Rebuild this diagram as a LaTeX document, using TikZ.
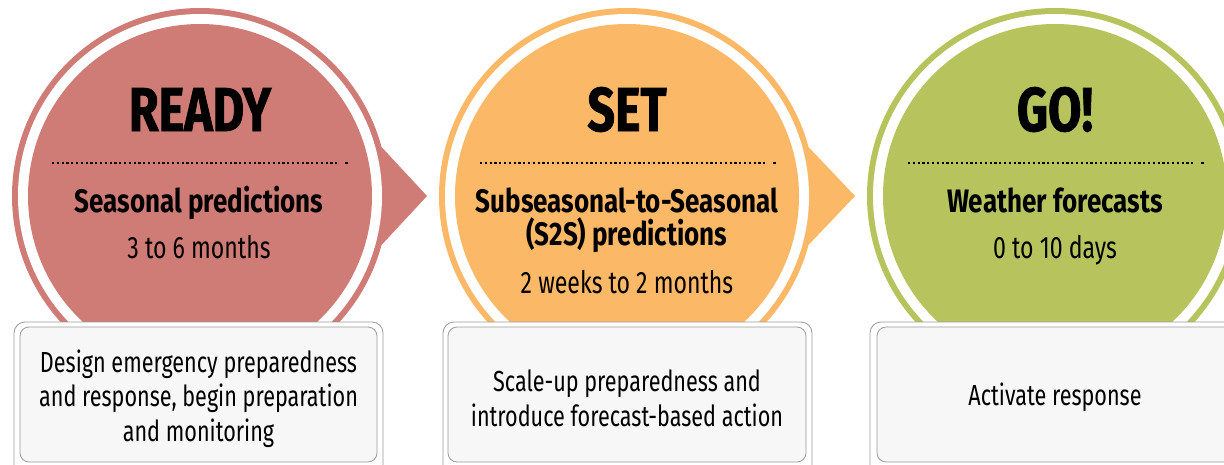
\documentclass[tikz,border=0pt]{standalone}
\usepackage{fontspec}
\setmainfont{Fira Sans}[FakeStretch=0.745]
\newfontfamily\headfont{Fira Sans}[FakeStretch=0.80]
\newfontfamily\titlefont{Fira Sans}[FakeStretch=0.78, FakeBold=1.2]
\definecolor{cred}{RGB}{207,123,118}
\definecolor{corange}{RGB}{251,184,103}
\definecolor{cgreen}{RGB}{183,196,94}
\definecolor{boxline}{RGB}{155,155,155}
\definecolor{boxfill}{RGB}{247,247,247}
\tikzset{
  outerdisc/.style={circle, inner sep=0pt, minimum size=376pt},
  gapdisc/.style={circle, fill=white, inner sep=0pt, minimum size=364pt},
  innerdisc/.style={circle, inner sep=0pt, minimum size=344pt},
  titletext/.style={anchor=base, font=\titlefont\bfseries\fontsize{62}{62}\selectfont},
  headtext/.style={anchor=base, font=\headfont\bfseries\fontsize{32.5}{35}\selectfont, align=center},
  spantext/.style={anchor=base, font=\fontsize{31}{34}\selectfont},
  dotline/.style={line width=2.2pt, dash pattern=on 2.2pt off 2.6pt},
  boxout/.style={draw=boxline, fill=white, line width=0.8pt, rounded corners=11pt, inner sep=0pt},
  boxin/.style={draw=boxline, fill=boxfill, line width=0.8pt, rounded corners=9pt, inner sep=0pt},
  boxtext/.style={font=\fontsize{29}{34.5}\selectfont, align=center}
}
\begin{document}
\begin{tikzpicture}[x=1pt,y=-1pt]
\useasboundingbox (0,0) rectangle (1224,464);
\clip (0,0) rectangle (1224,464);
% ---------- READY ----------
\coordinate (t1) at (427,196);
\node[outerdisc, fill=cred] (c1o) at (200,196) {};
\fill[cred] (c1o.15) -- (t1) -- (c1o.-15) -- cycle;
\node[gapdisc] (c1g) at (c1o.center) {};
\node[innerdisc, fill=cred] (c1) at (c1o.center) {};
% ---------- SET ----------
\coordinate (t2) at (855,196);
\node[outerdisc, fill=corange] (c2o) at (627,196) {};
\fill[corange] (c2o.15) -- (t2) -- (c2o.-15) -- cycle;
\node[gapdisc] (c2g) at (c2o.center) {};
\node[innerdisc, fill=corange] (c2) at (c2o.center) {};
% ---------- GO ----------
\node[outerdisc, fill=cgreen] (c3o) at (1055,196) {};
\node[gapdisc] (c3g) at (c3o.center) {};
\node[innerdisc, fill=cgreen] (c3) at (c3o.center) {};
% titles
\node[titletext] (h1) at (200,131) {READY};
\node[titletext] (h2) at (627,131) {SET};
\node[titletext] (h3) at (1055,131) {GO!};
% dotted lines
\coordinate (d1a) at (52,163); \coordinate (d1b) at (339,163); \coordinate (d1c) at (345,163); \coordinate (d1d) at (347.5,163);
\coordinate (d2a) at (480,163); \coordinate (d2b) at (767,163); \coordinate (d2c) at (773,163); \coordinate (d2d) at (775.5,163);
\coordinate (d3a) at (908,163); \coordinate (d3b) at (1195,163); \coordinate (d3c) at (1201,163); \coordinate (d3d) at (1203.5,163);
\draw[dotline] (d1a) -- (d1b); \draw[line width=2.2pt] (d1c) -- (d1d);
\draw[dotline] (d2a) -- (d2b); \draw[line width=2.2pt] (d2c) -- (d2d);
\draw[dotline] (d3a) -- (d3b); \draw[line width=2.2pt] (d3c) -- (d3d);
% subheads
\node[headtext] (s1) at (199,212) {Seasonal predictions};
\node[spantext] (p1) at (199,258) {3 to 6 months};
\node[headtext] (s2a) at (627,212) {Subseasonal-to-Seasonal};
\node[headtext] (s2b) at (627,245) {(S2S) predictions};
\node[spantext] (p2) at (627,293) {2 weeks to 2 months};
\node[headtext] (s3) at (1055,212) {Weather forecasts};
\node[spantext] (p3) at (1055,258) {0 to 10 days};
% boxes
\node[boxout, minimum width=369pt, minimum height=154pt] (b1o) at (198.5,399) {};
\node[boxin, minimum width=357pt, minimum height=135pt] (b1) at (198.5,394.5) {};
\node[boxout, minimum width=369pt, minimum height=154pt] (b2o) at (627.5,399) {};
\node[boxin, minimum width=358pt, minimum height=135pt] (b2) at (627,394.5) {};
\node[boxout, minimum width=369pt, minimum height=154pt] (b3o) at (1054.5,399) {};
\node[boxin, minimum width=356pt, minimum height=135pt] (b3) at (1055,394.5) {};
\node[boxtext] (x1) at ([yshift=-4pt]b1.center) {Design emergency preparedness\\and response, begin preparation\\and monitoring};
\node[boxtext] (x2) at ([yshift=-4pt]b2.center) {Scale-up preparedness and\\introduce forecast-based action};
\node[boxtext] (x3) at ([yshift=-3pt]b3.center) {Activate response};
\end{tikzpicture}
\end{document}
